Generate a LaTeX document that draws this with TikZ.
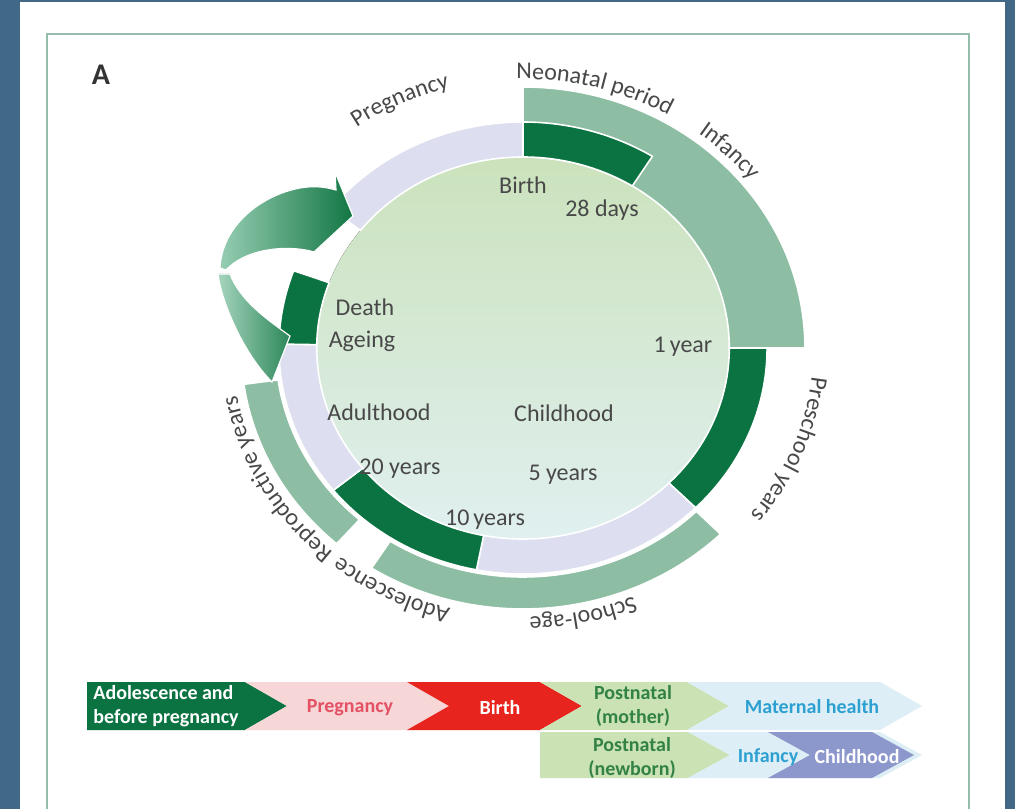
\documentclass[tikz,border=0pt]{standalone}
\usepackage{fontspec}
\setmainfont{Carlito}
\usepackage{tikz}
\usetikzlibrary{decorations.text}

\definecolor{slate}{RGB}{66,104,136}
\definecolor{framegreen}{RGB}{150,188,172}
\definecolor{deepgreen}{RGB}{10,115,65}
\definecolor{sagegreen}{RGB}{141,190,163}
\definecolor{lavender}{RGB}{221,222,240}
\definecolor{discgreen}{RGB}{203,226,188}
\definecolor{discmint}{RGB}{224,240,240}
\definecolor{inkgray}{RGB}{72,72,72}
\definecolor{arrowlight}{RGB}{150,205,178}
\definecolor{arrowdark}{RGB}{18,118,68}
\definecolor{barpink}{RGB}{246,214,214}
\definecolor{textpink}{RGB}{228,80,100}
\definecolor{barred}{RGB}{232,36,30}
\definecolor{barlime}{RGB}{202,226,180}
\definecolor{textgreen}{RGB}{50,130,70}
\definecolor{barblue}{RGB}{222,238,246}
\definecolor{textblue}{RGB}{45,160,210}
\definecolor{barpurple}{RGB}{140,152,204}

\tikzset{
    band/.style={draw=white, line width=0.8pt},
    stage/.style={
        text=inkgray,
        font=\fontsize{12}{14}\selectfont,
        inner sep=1pt
    },
    bar text/.style={
        font=\bfseries\fontsize{10}{12}\selectfont,
        align=center,
        inner sep=0pt
    },
    ring label/.style={
        decorate,
        decoration={text along path, text align=center,
            text={|\fontsize{12}{14}\selectfont\color{inkgray}|#1}}
    }
}

% ring piece: style, from angle, to angle, inner radius, outer radius
\newcommand{\ringband}[5]{%
    \fill[#1] (#2:#4) arc[start angle=#2, end angle=#3, radius=#4]
        -- (#3:#5) arc[start angle=#3, end angle=#2, radius=#5] -- cycle;}

% bar arrow: colour, left x, right x, bottom y, top y, notch depth
\newcommand{\stagearrow}[6]{%
    \fill[#1] (#2,#5) -- (#3,#5) -- ({#3+42},{(#4+#5)/2}) -- (#3,#4)
        -- (#2,#4) -- ({#2+#6},{(#4+#5)/2}) -- cycle;}

\begin{document}
\begin{tikzpicture}[x=0.5pt, y=0.5pt]
    \useasboundingbox (0,0) rectangle (1015,809);

    % Page and frame
    \fill[slate] (0,0) rectangle (1015,809);
    \fill[white] (20,0) rectangle (1005,807);
    \draw[framegreen, line width=1pt] (47,0) -- (47,775) -- (969,775) -- (969,0);

    \node (panelA) [font=\bfseries\fontsize{15}{17}\selectfont, text=black!80] at (101,734) {A};

    % Life-course ring
    \begin{scope}[shift={(523,461)}, xscale=1.08]
        \fill[top color=discgreen, bottom color=discmint] (0,0) circle[radius=191];

        % infancy, with the neonatal period on top
        \ringband{band, fill=sagegreen}{90}{0}{191}{261}
        \ringband{band, fill=deepgreen}{90}{58}{191}{226}

        % inner ring
        \ringband{band, fill=deepgreen}{0}{-45}{191}{226}
        \ringband{band, fill=lavender}{-45}{-101}{191}{226}
        \ringband{band, fill=deepgreen}{-101}{-141}{191}{226}
        \ringband{band, fill=lavender}{-141}{-181}{191}{226}
        \ringband{band, fill=deepgreen}{179}{160}{191}{226}
        \ringband{band, fill=lavender}{142}{90}{191}{226}

        % outer ring
        \ringband{band, fill=sagegreen}{-45.5}{-122.5}{229}{261}
        \ringband{band, fill=sagegreen}{-172}{-131.4}{229}{261}

        % Labels round the ring
        \path[ring label=Pregnancy] (140:269) arc[start angle=140, end angle=90, radius=269];
        \path[ring label=Neonatal period] (100.5:269) arc[start angle=100.5, end angle=50.5, radius=269];
        \path[ring label=Infancy] (60:269) arc[start angle=60, end angle=31, radius=269];
        \path[ring label=Preschool years] (5:269) arc[start angle=5, end angle=-49, radius=269];
        \path[ring label=School-age] (-50:269) arc[start angle=-50, end angle=-106, radius=269];
        \path[ring label=Adolescence] (270:269) arc[start angle=270, end angle=216, radius=269];
        \path[ring label=Reproductive years] (240:269) arc[start angle=240, end angle=179, radius=269];
    \end{scope}

    % Curved arrow from death back to pregnancy
    \fill[left color=arrowlight!85!white, right color=arrowdark!80!arrowlight, draw=white, line width=0.6pt]
        (218,535) .. controls (222,504) and (245,454) .. (272,427)
        -- (290,473) .. controls (265,491) and (240,509) .. (230,535) -- cycle;
    \fill[left color=arrowlight, right color=arrowdark, draw=white, line width=0.6pt]
        (220,541) .. controls (222,584) and (262,614) .. (300,621)
        .. controls (318,624) and (328,621) .. (336,619)
        -- (335,637) -- (353,593) -- (314,557)
        .. controls (295,563) and (250,564) .. (226,539) -- cycle;

    % Stages
    \node (birth) [stage] at (523,624) {Birth};
    \node (days) [stage] at (602,599) {28 days};
    \node (death) [stage] at (365,502) {Death};
    \node (ageing) [stage] at (362,468) {Ageing};
    \node (oneYear) [stage] at (683,462) {1\,year};
    \node (adulthood) [stage] at (379,397) {Adulthood};
    \node (childhood) [stage] at (564,396) {Childhood};
    \node (twentyYears) [stage] at (400,340) {20 years};
    \node (fiveYears) [stage] at (563,334) {5 years};
    \node (tenYears) [stage] at (485,289) {10\,years};

    % Continuum of care
    \stagearrow{deepgreen}{87}{245}{79}{127}{0}
    \stagearrow{barpink}{245}{407}{79}{127}{42}
    \stagearrow{barred}{407}{540}{79}{127}{42}
    \stagearrow{barlime}{540}{687}{79}{127}{42}
    \stagearrow{barblue}{687}{880}{79}{127}{42}
    \stagearrow{barlime}{540}{688}{31}{77}{0}
    \stagearrow{barblue}{688}{880}{31}{77}{42}
    \stagearrow{barpurple}{768}{872}{31}{77}{42}

    \node (adolescence) [bar text, text=white, align=left, anchor=west] at (93,103)
        {Adolescence and\\before pregnancy};
    \node (pregnancy) [bar text, text=textpink] at (350,101) {Pregnancy};
    \node (birthBar) [bar text, text=white] at (500,101) {Birth};
    \node (mother) [bar text, text=textgreen] at (633,103) {Postnatal\\(mother)};
    \node (maternal) [bar text, text=textblue] at (812,102) {Maternal health};
    \node (newborn) [bar text, text=textgreen] at (632,51) {Postnatal\\(newborn)};
    \node (infancy) [bar text, text=textblue] at (768,52) {Infancy};
    \node (childhoodBar) [bar text, text=white] at (857,52) {Childhood};
\end{tikzpicture}
\end{document}
